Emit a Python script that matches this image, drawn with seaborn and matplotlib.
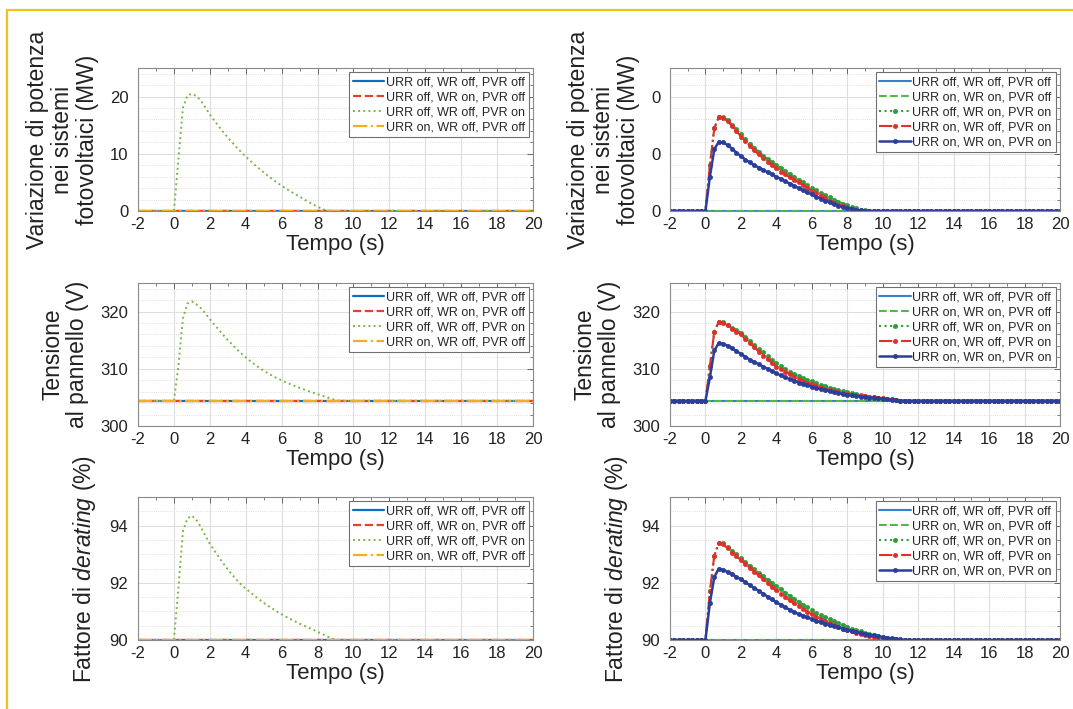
import numpy as np
import pandas as pd
import seaborn as sns
import matplotlib
matplotlib.use("Agg")
import matplotlib.pyplot as plt
from matplotlib.lines import Line2D
from matplotlib.ticker import MultipleLocator

# time axis (s), 0.25 s sampling
tempo = np.arange(-2, 20.001, 0.25)
n_pre, n_post = 8, 36  # samples before t=0 and after t=11

# transient samples, t = 0, 0.25, ..., 11 s
# left column: only "URR off, WR off, PVR on" moves
pot_sx = [0, 9.0, 18.0, 20.2,
          20.5, 20.1, 19.3, 18.1,
          16.9, 15.8, 14.78, 13.8,
          12.86, 11.96, 11.1, 10.28,
          9.5, 8.78, 8.08, 7.4,
          6.75, 6.13, 5.53, 4.96,
          4.42, 3.9, 3.42, 2.96,
          2.5, 2.05, 1.6, 1.15,
          0.75, 0.38, 0.08, 0,
          0, 0, 0, 0,
          0, 0, 0, 0,
          0]
ten_sx = [304.4, 310.5, 318.8, 321.4,
          321.8, 321.3, 320.6, 319.7,
          318.7, 317.75, 316.82, 315.92,
          315.05, 314.22, 313.44, 312.7,
          312.0, 311.36, 310.76, 310.2,
          309.68, 309.2, 308.76, 308.35,
          307.97, 307.62, 307.29, 306.97,
          306.67, 306.38, 306.1, 305.83,
          305.57, 305.31, 305.05, 304.78,
          304.52, 304.4, 304.4, 304.4,
          304.4, 304.4, 304.4, 304.4,
          304.4]
der_sx = [90.0, 91.8, 93.8, 94.25,
          94.35, 94.2, 93.95, 93.65,
          93.36, 93.13, 92.9, 92.68,
          92.47, 92.28, 92.1, 91.94,
          91.8, 91.67, 91.54, 91.42,
          91.3, 91.19, 91.09, 90.99,
          90.9, 90.81, 90.73, 90.65,
          90.57, 90.5, 90.43, 90.36,
          90.29, 90.21, 90.14, 90.07,
          90.01, 90.0, 90.0, 90.0,
          90.0, 90.0, 90.0, 90.0,
          90.0]

# right column: green = URR off/WR on/PVR on, red = URR on/WR off/PVR on, blue = all on
pot_g = [0, 8.0, 14.5, 16.4,
         16.4, 15.9, 15.1, 14.3,
         13.4, 12.6, 11.8, 11.1,
         10.4, 9.7, 9.1, 8.6,
         8.1, 7.5, 7.0, 6.5,
         6.0, 5.5, 5.0, 4.5,
         4.1, 3.6, 3.2, 2.8,
         2.4, 2.0, 1.65, 1.3,
         1.0, 0.7, 0.45, 0.25,
         0.1, 0, 0, 0,
         0, 0, 0, 0,
         0]
pot_r = [0, 8.0, 14.5, 16.4,
         16.3, 15.7, 14.9, 14.0,
         13.0, 12.2, 11.4, 10.6,
         9.9, 9.2, 8.5, 8.0,
         7.5, 6.9, 6.4, 5.9,
         5.4, 5.0, 4.5, 4.0,
         3.5, 3.1, 2.6, 2.2,
         1.8, 1.45, 1.1, 0.85,
         0.6, 0.4, 0.2, 0.05,
         0, 0, 0, 0,
         0, 0, 0, 0,
         0]
pot_b = [0, 6.0, 10.8, 12.1,
         12.0, 11.5, 10.9, 10.2,
         9.6, 9.0, 8.5, 8.0,
         7.6, 7.2, 6.8, 6.4,
         6.0, 5.6, 5.2, 4.8,
         4.4, 4.0, 3.6, 3.25,
         2.9, 2.5, 2.15, 1.8,
         1.5, 1.2, 0.95, 0.75,
         0.55, 0.38, 0.22, 0.1,
         0.03, 0, 0, 0,
         0, 0, 0, 0,
         0]
ten_g = [304.4, 310.5, 316.5, 318.2,
         318.1, 317.7, 317.2, 316.8,
         316.3, 315.6, 314.9, 314.2,
         313.5, 312.9, 312.2, 311.6,
         311.0, 310.5, 310.0, 309.5,
         309.1, 308.8, 308.4, 308.1,
         307.8, 307.5, 307.2, 306.95,
         306.7, 306.45, 306.25, 306.05,
         305.9, 305.7, 305.55, 305.4,
         305.28, 305.15, 305.05, 304.95,
         304.85, 304.75, 304.65, 304.55,
         304.45]
ten_r = [304.4, 310.5, 316.5, 318.2,
         318.0, 317.6, 317.0, 316.5,
         316.0, 315.2, 314.5, 313.8,
         313.0, 312.3, 311.7, 311.0,
         310.4, 309.95, 309.5, 309.05,
         308.65, 308.3, 307.95, 307.6,
         307.3, 307.05, 306.8, 306.55,
         306.35, 306.15, 305.95, 305.8,
         305.65, 305.5, 305.4, 305.28,
         305.18, 305.1, 305.0, 304.92,
         304.85, 304.75, 304.65, 304.55,
         304.45]
ten_b = [304.4, 308.5, 313.2, 314.5,
         314.4, 314.0, 313.6, 313.1,
         312.6, 312.1, 311.6, 311.2,
         310.8, 310.4, 310.0, 309.6,
         309.2, 308.85, 308.5, 308.2,
         307.9, 307.6, 307.35, 307.1,
         306.9, 306.65, 306.45, 306.25,
         306.1, 305.9, 305.75, 305.6,
         305.5, 305.35, 305.25, 305.15,
         305.05, 304.98, 304.9, 304.82,
         304.75, 304.68, 304.6, 304.52,
         304.45]
der_g = [90.0, 91.7, 92.95, 93.4,
         93.38, 93.25, 93.12, 92.99,
         92.86, 92.73, 92.6, 92.47,
         92.35, 92.23, 92.11, 91.99,
         91.88, 91.77, 91.66, 91.55,
         91.44, 91.34, 91.24, 91.14,
         91.05, 90.96, 90.88, 90.8,
         90.72, 90.65, 90.58, 90.52,
         90.46, 90.4, 90.35, 90.3,
         90.25, 90.21, 90.17, 90.13,
         90.1, 90.07, 90.05, 90.03,
         90.01]
der_r = [90.0, 91.7, 92.95, 93.4,
         93.35, 93.2, 93.05, 92.92,
         92.8, 92.66, 92.53, 92.39,
         92.26, 92.12, 91.99, 91.86,
         91.74, 91.62, 91.5, 91.39,
         91.28, 91.18, 91.08, 90.99,
         90.9, 90.82, 90.74, 90.66,
         90.59, 90.52, 90.46, 90.4,
         90.35, 90.3, 90.26, 90.22,
         90.18, 90.15, 90.12, 90.1,
         90.08, 90.06, 90.04, 90.02,
         90.01]
der_b = [90.0, 91.3, 92.2, 92.5,
         92.45, 92.38, 92.3, 92.21,
         92.12, 92.02, 91.92, 91.82,
         91.72, 91.62, 91.52, 91.42,
         91.32, 91.23, 91.14, 91.06,
         90.98, 90.91, 90.85, 90.79,
         90.73, 90.67, 90.62, 90.57,
         90.52, 90.48, 90.44, 90.4,
         90.36, 90.32, 90.28, 90.25,
         90.22, 90.19, 90.16, 90.13,
         90.1, 90.08, 90.06, 90.04,
         90.02]

# steady state values
base_pot, base_ten, base_der = 0.0, 304.4, 90.0

labels_sx = ["URR off, WR off, PVR off", "URR off, WR on, PVR off",
             "URR off, WR off, PVR on", "URR on, WR off, PVR off"]
labels_dx = ["URR off, WR off, PVR off", "URR on, WR on, PVR off",
             "URR off, WR on, PVR on", "URR on, WR off, PVR on",
             "URR on, WR on, PVR on"]


def full(base, trans):
    return np.concatenate([np.full(n_pre, base), trans, np.full(n_post, base)])


sns.set_theme(style="whitegrid")
plt.rcParams["font.family"] = ["Liberation Sans", "DejaVu Sans"]
plt.rcParams["mathtext.fontset"] = "custom"
plt.rcParams["mathtext.rm"] = "Liberation Sans"
plt.rcParams["mathtext.it"] = "Liberation Sans:italic"

fig = plt.figure(figsize=(10.73, 7.09), dpi=100)
W, H = 1073, 709
rows = [(68, 211), (283, 426), (497, 640)]
cols = [(138, 533), (670, 1060)]
axes = [[fig.add_axes([c[0] / W, 1 - r[1] / H, (c[1] - c[0]) / W, (r[1] - r[0]) / H])
         for c in cols] for r in rows]

# styles: (color, linestyle, marker)
sty_sx = [("#0a6fc0", "-", None), ("#e0442e", "--", None),
          ("#7ab648", ":", None), ("#eeb022", "-.", None)]
sty_dx = [("#3580d0", "-", None), ("#55b54a", "--", None),
          ("#2e9e3a", ":", "o"), ("#e12f2a", "-.", "o"), ("#2a3e9c", "-", "o")]

panels = [
    (base_pot, [None, None, pot_sx, None], [pot_g, pot_r, pot_b],
     (0, 25), [0, 10, 20], 2, "Variazione di potenza\nnei sistemi\nfotovoltaici (MW)"),
    (base_ten, [None, None, ten_sx, None], [ten_g, ten_r, ten_b],
     (300, 325), [300, 310, 320], 2, "Tensione\nal pannello (V)"),
    (base_der, [None, None, der_sx, None], [der_g, der_r, der_b],
     (90, 95), [90, 92, 94], 0.5, r"Fattore di $\mathit{derating}$ (%)"),
]


def style_axes(ax, ylim, yticks, yminor, ylabel):
    ax.set_xlim(-2, 20)
    ax.set_ylim(*ylim)
    ax.set_xticks(range(-2, 21, 2))
    ax.set_xticklabels([str(v) for v in range(-2, 21, 2)])
    ax.set_yticks(yticks)
    ax.xaxis.set_minor_locator(MultipleLocator(1))
    ax.yaxis.set_minor_locator(MultipleLocator(yminor))
    ax.grid(True, which="major", color="#dedede", lw=0.8)
    ax.grid(True, which="minor", axis="y", color="#d4d4d4", lw=0.6, ls=":")
    ax.set_axisbelow(True)
    ax.tick_params(which="both", direction="in", top=True, right=True,
                   color="#666666", labelsize=12, labelcolor="#222222")
    ax.tick_params(which="major", length=4, width=0.7)
    ax.tick_params(which="minor", length=2, width=0.6)
    ax.tick_params(axis="x", pad=4)
    ax.tick_params(axis="y", pad=7)
    for s in ax.spines.values():
        s.set_color("#8a8a8a")
        s.set_linewidth(0.8)
    ax.set_xlabel("Tempo (s)", fontsize=16, labelpad=2, color="#222222")
    ax.set_ylabel(ylabel, fontsize=16.5, labelpad=8, color="#222222",
                  linespacing=1.1)


for r, (base, sx, dx, ylim, yticks, yminor, ylab) in enumerate(panels):
    ax = axes[r][0]
    for lab, (col, ls, mk), tr in zip(labels_sx, sty_sx, sx):
        y = full(base, tr) if tr is not None else np.full(len(tempo), base)
        sns.lineplot(x=tempo, y=y, ax=ax, color=col, linestyle=ls,
                     lw=1.4 if ls == ":" else 1.6, label=lab, estimator=None)
    style_axes(ax, ylim, yticks, yminor, ylab)

    ax = axes[r][1]
    dx_all = [None, None] + dx
    for lab, (col, ls, mk), tr in zip(labels_dx, sty_dx, dx_all):
        y = full(base, tr) if tr is not None else np.full(len(tempo), base)
        kw = dict(marker=mk, markersize=3, markeredgecolor=col,
                  markerfacecolor=col, markeredgewidth=0.5) if mk else {}
        sns.lineplot(x=tempo, y=y, ax=ax, color=col, linestyle=ls,
                     lw=1.8 if col == "#2a3e9c" else 1.5,
                     label=lab, estimator=None, **kw)
    style_axes(ax, ylim, yticks, yminor, ylab)
    if r == 0:
        ax.set_yticklabels(["0", "0", "0"])

for row in axes:
    for ax in row:
        leg = ax.legend(loc="upper right", fontsize=9, frameon=True,
                        fancybox=False, framealpha=1, edgecolor="#707070",
                        borderaxespad=0.35, borderpad=0.3, labelspacing=0.25,
                        handlelength=2.5, handletextpad=0.15, numpoints=1)
        leg.get_frame().set_linewidth(0.8)

# yellow frame of the page
fig.add_artist(Line2D([7 / W, 7 / W], [0, 1 - 10 / H], transform=fig.transFigure,
                      color="#f0c419", lw=1.6))
fig.add_artist(Line2D([7 / W, 1], [1 - 10 / H, 1 - 10 / H], transform=fig.transFigure,
                      color="#f0c419", lw=1.6))

fig.savefig("out.png", dpi=100, facecolor="white")
